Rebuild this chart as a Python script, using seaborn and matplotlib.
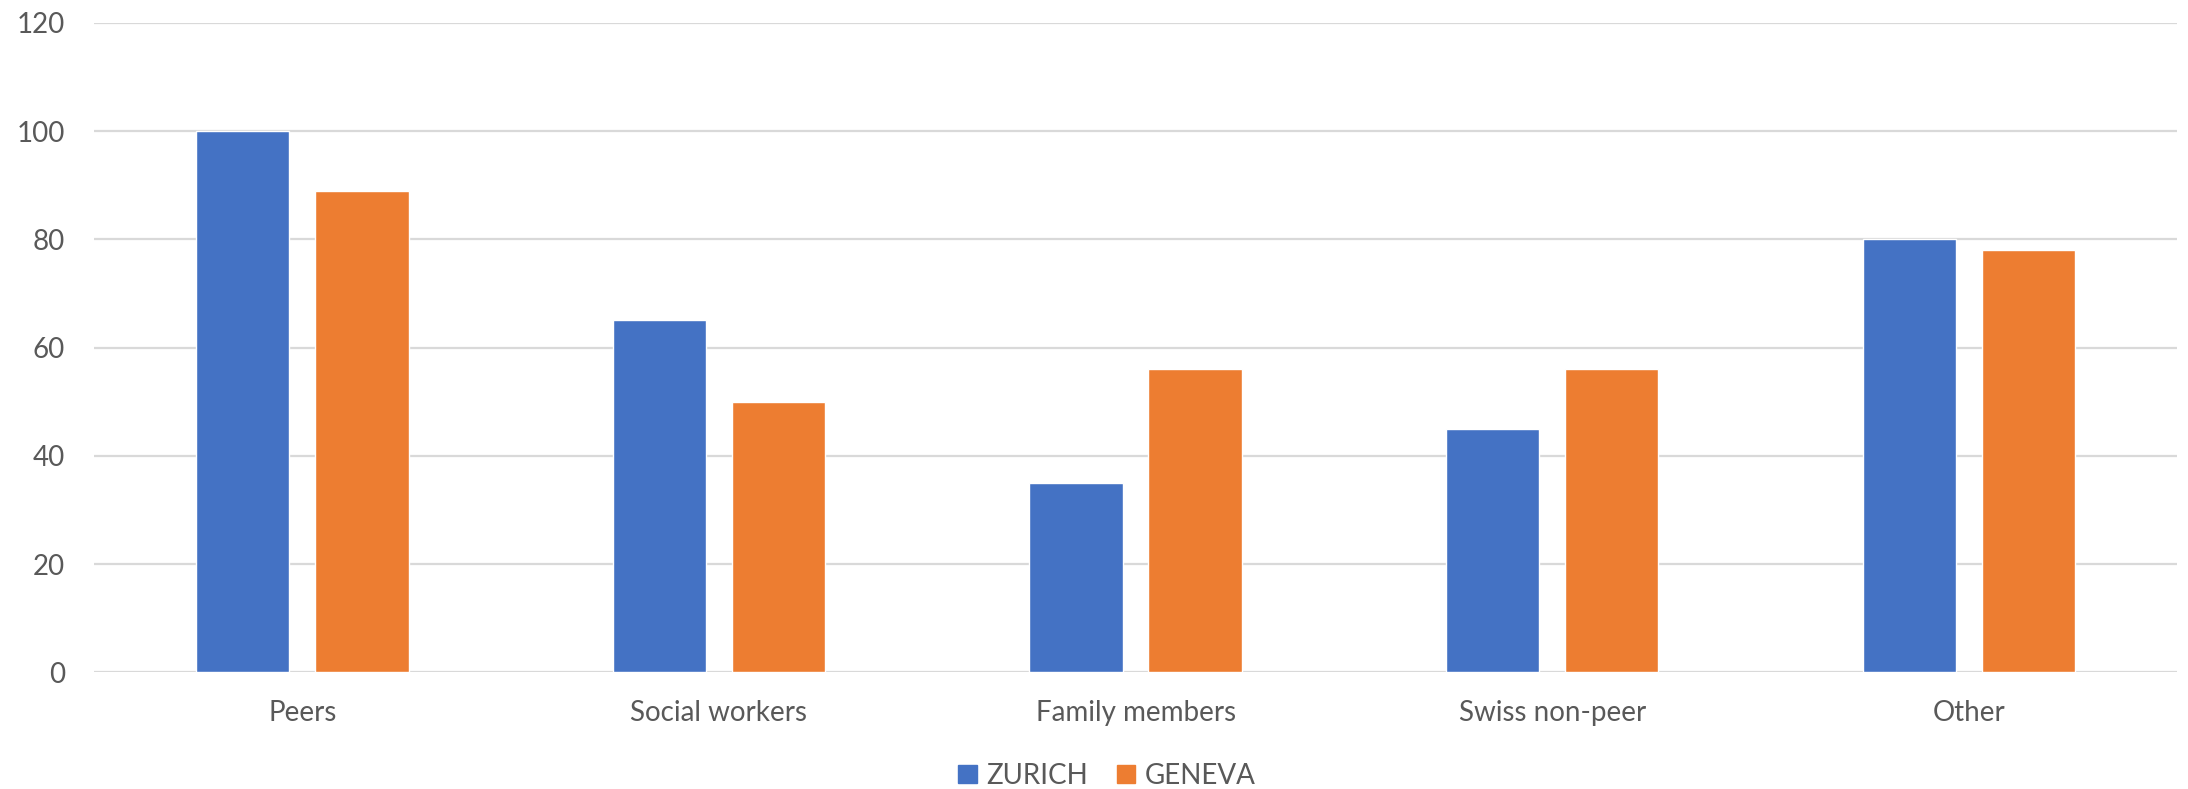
import matplotlib
matplotlib.use("Agg")
import matplotlib.pyplot as plt
import seaborn as sns
import pandas as pd

categories = ["Peers", "Social workers", "Family members", "Swiss non-peer", "Other"]
zurich = [100, 65, 35, 45, 80]
geneva = [89, 50, 56, 56, 78]
series_names = ["ZURICH", "GENEVA"]
y_ticks = [0, 20, 40, 60, 80, 100, 120]

df = pd.DataFrame({
    "category": categories * 2,
    "value": zurich + geneva,
    "city": [series_names[0]] * len(categories) + [series_names[1]] * len(categories),
})

sns.set_theme(style="white")
plt.rcParams["font.family"] = ["Lato", "DejaVu Sans"]
text_color = "#595959"

fig = plt.figure(figsize=(21.88, 7.89), dpi=100)
ax = fig.add_axes([0.043, 0.148, 0.952, 0.823])

sns.barplot(
    data=df, x="category", y="value", hue="city",
    order=categories, hue_order=series_names,
    palette=["#4472C4", "#ED7D31"],
    width=0.572, gap=0.217, saturation=1,
    ax=ax, legend=False,
)

ax.set_ylim(0, 120)
ax.set_yticks(y_ticks)
ax.set_xlim(-0.5, len(categories) - 0.5)
ax.yaxis.grid(True, color="#D9D9D9", linewidth=1.6)
ax.set_axisbelow(True)
for s in ax.spines.values():
    s.set_visible(False)
ax.set_xlabel("")
ax.set_ylabel("")
ax.tick_params(axis="y", length=0, pad=21, labelsize=20, labelcolor=text_color)
ax.tick_params(axis="x", length=0, pad=20, labelsize=20, labelcolor=text_color)

handles = [plt.Rectangle((0, 0), 1, 1, color=c) for c in ["#4472C4", "#ED7D31"]]
fig.legend(
    handles, series_names, loc="center", bbox_to_anchor=(0.506, 0.0165),
    ncol=2, frameon=False, fontsize=20, labelcolor=text_color,
    handlelength=0.65, handleheight=0.65, handletextpad=0.35, columnspacing=1.05,
)

fig.savefig("out.png", dpi=100, facecolor="white")
